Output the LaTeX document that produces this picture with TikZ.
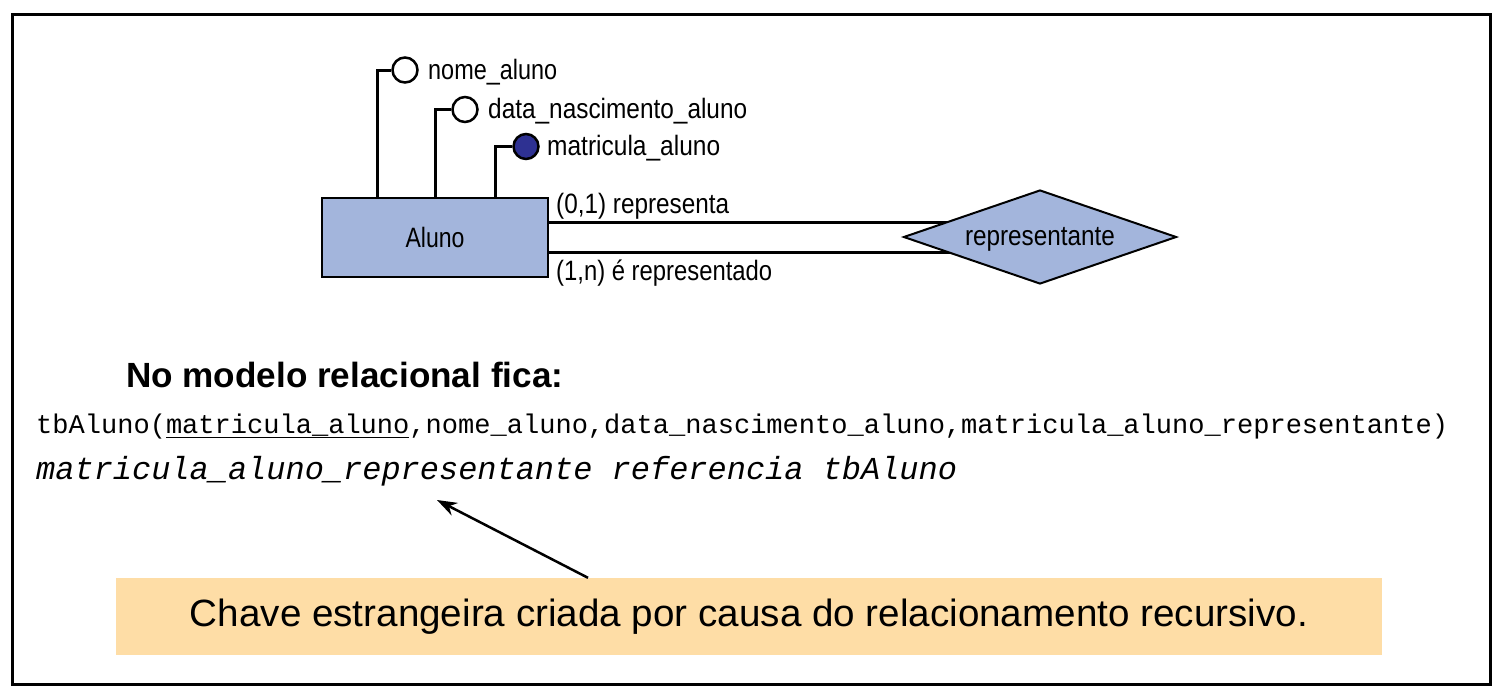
\documentclass[tikz,border=0pt]{standalone}
\usepackage{fontspec}
\setmainfont{Liberation Sans}
\setmonofont{Liberation Mono}
\usepackage{graphicx}
\usetikzlibrary{arrows.meta,positioning,shapes.geometric,backgrounds}

\definecolor{entfill}{RGB}{163,181,220}
\definecolor{keyfill}{RGB}{46,49,146}
\definecolor{notefill}{RGB}{254,221,166}

\newcommand{\fitw}[2]{\resizebox{#1}{\height}{#2}}

\tikzset{
  entity/.style={draw,line width=2.5pt,fill=entfill,minimum width=226pt,minimum height=79pt,inner sep=0pt,font=\fontsize{28}{32}\selectfont},
  relation/.style={diamond,draw,line width=2pt,fill=entfill,minimum width=273pt,minimum height=94pt,inner sep=0pt,aspect=2.9,text height=20pt,text depth=4pt,font=\fontsize{28}{32}\selectfont},
  attr/.style={circle,draw,line width=2.5pt,fill=white,minimum size=25pt,inner sep=0pt},
  keyattr/.style={attr,fill=keyfill},
  erlabel/.style={anchor=base west,inner sep=0pt,font=\fontsize{28}{32}\selectfont},
  reltext/.style={anchor=base west,inner sep=0pt},
  link/.style={line width=3pt},
}

\begin{document}
\begin{tikzpicture}[x=1pt,y=-1pt]
  \useasboundingbox (0,0) rectangle (1502,689);
  \draw[line width=3pt] (12,14) rectangle (1490,684);

  \node[entity] (aluno) at (435,237.5) {\fitw{59pt}{Aluno}};
  \node[relation] (repr) at (1040,237) {\fitw{150pt}{representante}};

  \node[attr] (nome) at (405,70) {};
  \node[attr] (data) at (465,109.5) {};
  \node[keyattr] (matr) at (526,146.5) {};
  \draw[link] (nome.west) -| ([xshift=-58pt]aluno.north);
  \draw[link] (data.west) -| (aluno.north);
  \draw[link] (matr.west) -| ([xshift=60pt]aluno.north);
  \node[erlabel] (nomelbl) at (428,79) {\fitw{129pt}{nome\_aluno}};
  \node[erlabel] (datalbl) at (488,118) {\fitw{259pt}{data\_nascimento\_aluno}};
  \node[erlabel] (matrlbl) at (547,155) {\fitw{173pt}{matricula\_aluno}};

  \coordinate (topline) at (0,222);
  \coordinate (botline) at (0,252);
  \begin{scope}[on background layer]
    \draw[link] (aluno.east |- topline) -- (repr.center |- topline);
    \draw[link] (aluno.east |- botline) -- (repr.center |- botline);
  \end{scope}
  \node[erlabel] (card1) at (556,213) {\fitw{173pt}{(0,1) representa}};
  \node[erlabel] (card2) at (556,280) {\fitw{216pt}{(1,n) é representado}};

  \node[reltext,font=\bfseries\fontsize{35}{40}\selectfont] (titulo) at (126,387) {\fitw{437pt}{No modelo relacional fica:}};
  \node[reltext,font=\ttfamily\fontsize{27}{30}\selectfont] (tabela) at (36,433) {\fitw{1412pt}{tbAluno(\underline{matricula\_aluno},nome\_aluno,data\_nascimento\_aluno,matricula\_aluno\_representante)}};
  \node[reltext,font=\ttfamily\itshape\fontsize{32}{36}\selectfont] (chave) at (36,479) {\fitw{921pt}{matricula\_aluno\_representante referencia tbAluno}};

  \node[fill=notefill,minimum width=1266pt,minimum height=77pt,inner sep=0pt,font=\fontsize{38}{44}\selectfont] (nota) at (749,616.5) {\fitw{1118pt}{Chave estrangeira criada por causa do relacionamento recursivo.}};
  \coordinate (fk) at (437,500);
  \draw[line width=2.5pt,-{Stealth[length=20pt,width=14pt]}] ([xshift=-161pt]nota.north) -- (fk);
\end{tikzpicture}
\end{document}
